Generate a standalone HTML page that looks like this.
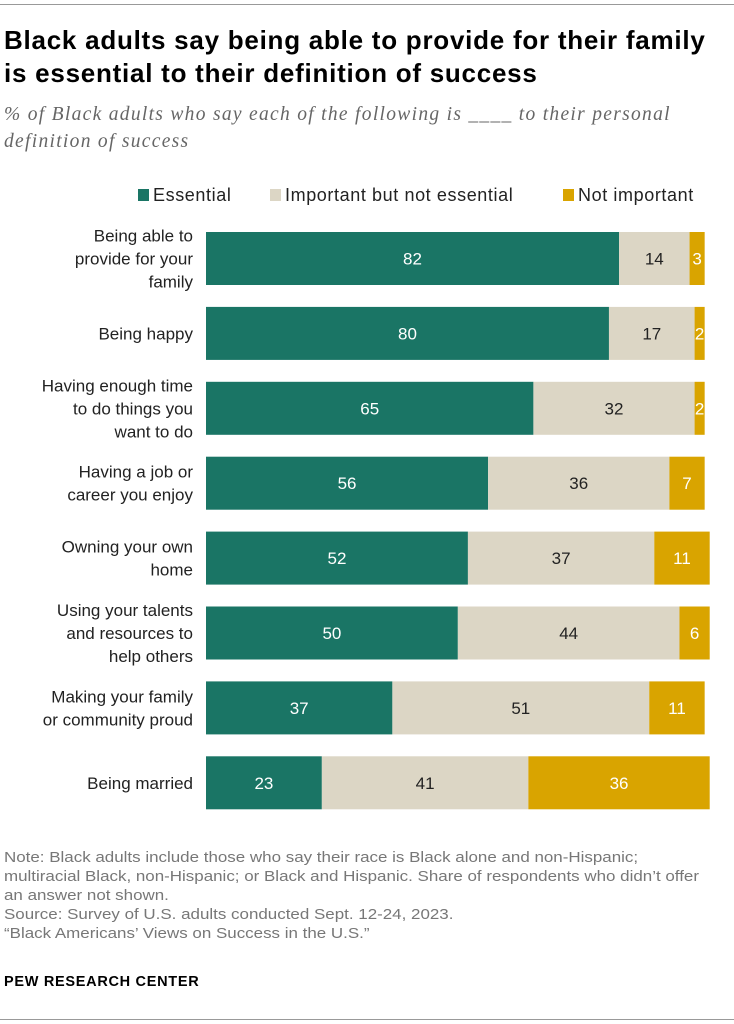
<!DOCTYPE html>
<html><head><meta charset="utf-8"><style>
body{margin:0;background:#fff;width:734px;height:1024px;position:relative;overflow:hidden;font-family:"Liberation Sans",sans-serif}
.abs{position:absolute}
</style></head><body>
<div class="abs" style="left:0;top:4px;width:734px;height:1px;background:#999"></div>
<div class="abs" style="left:4px;top:24px;font-size:26px;letter-spacing:0.75px;font-weight:bold;line-height:33px;color:#000">Black adults say being able to provide for their family<br>is essential to their definition of success</div>
<div class="abs" style="left:4px;top:101px;font-family:'Liberation Serif',serif;font-style:italic;font-size:19.5px;letter-spacing:1.3px;line-height:27px;color:#666">% of Black adults who say each of the following is ____ to their personal<br>definition of success</div>
<svg class="abs" style="left:0;top:0" width="734" height="840" id="chart"></svg>
<div class="abs" style="left:4px;top:848px;font-size:15px;line-height:19px;color:#777;transform:scaleX(1.13);transform-origin:left top;white-space:nowrap">Note: Black adults include those who say their race is Black alone and non-Hispanic;<br>multiracial Black, non-Hispanic; or Black and Hispanic. Share of respondents who didn’t offer<br>an answer not shown.<br>Source: Survey of U.S. adults conducted Sept. 12-24, 2023.<br>“Black Americans’ Views on Success in the U.S.”</div>
<div class="abs" style="left:4px;top:974px;font-size:14.5px;letter-spacing:0.7px;font-weight:bold;color:#000">PEW RESEARCH CENTER</div>
<div class="abs" style="left:0;top:1019px;width:734px;height:1px;background:#999"></div>
<script>
const categories=[["Being able to","provide for your","family"],["Being happy"],["Having enough time","to do things you","want to do"],["Having a job or","career you enjoy"],["Owning your own","home"],["Using your talents","and resources to","help others"],["Making your family","or community proud"],["Being married"]];
const essential=[82,80,65,56,52,50,37,23];
const important=[14,17,32,36,37,44,51,41];
const notImportant=[3,2,2,7,11,6,11,36];
const seriesNames=["Essential","Important but not essential","Not important"];
const colors=["#1a7565","#dcd6c5","#d9a400"];
const textColors=["#fff","#222","#fff"];
const NS="http://www.w3.org/2000/svg";
const svg=document.getElementById('chart');
const x0=206,scale=5.037,rowTop=232,rowStep=74.9,barH=53;
const xs=v=>v*scale;
const ys=i=>rowTop+i*rowStep;
function mk(t,a){const e=document.createElementNS(NS,t);for(const k in a)e.setAttribute(k,a[k]);svg.appendChild(e);return e;}
const legX=[138,270,563];
seriesNames.forEach((n,j)=>{
 const r=mk('rect',{x:legX[j],y:189,width:11,height:12,fill:colors[j]});
 
 
 const t=mk('text',{x:legX[j]+15,y:201,'font-size':18,'letter-spacing':0.6,fill:'#222','font-family':'Liberation Sans, sans-serif'});
 t.textContent=n;
 
 
});
const series=[essential,important,notImportant];
categories.forEach((lines,i)=>{
 const y=ys(i);
 const cy=y+barH/2;
 lines.forEach((l,k)=>{
  const t=mk('text',{x:193,y:cy+6+(k-(lines.length-1)/2)*23,'text-anchor':'end','font-size':17,fill:'#222','font-family':'Liberation Sans, sans-serif'});
  t.textContent=l;
  
  
 });
 let cx=x0;
 series.forEach((s,j)=>{
  const w=xs(s[i]);
  const r=mk('rect',{x:cx,y:y,width:w,height:barH,fill:colors[j]});
  
  
  const t=mk('text',{x:cx+w/2,y:cy+6,'text-anchor':'middle','font-size':17,fill:textColors[j],'font-family':'Liberation Sans, sans-serif'});
  t.textContent=s[i];
  
  
  cx+=w;
 });
});
</script>
</body></html>
